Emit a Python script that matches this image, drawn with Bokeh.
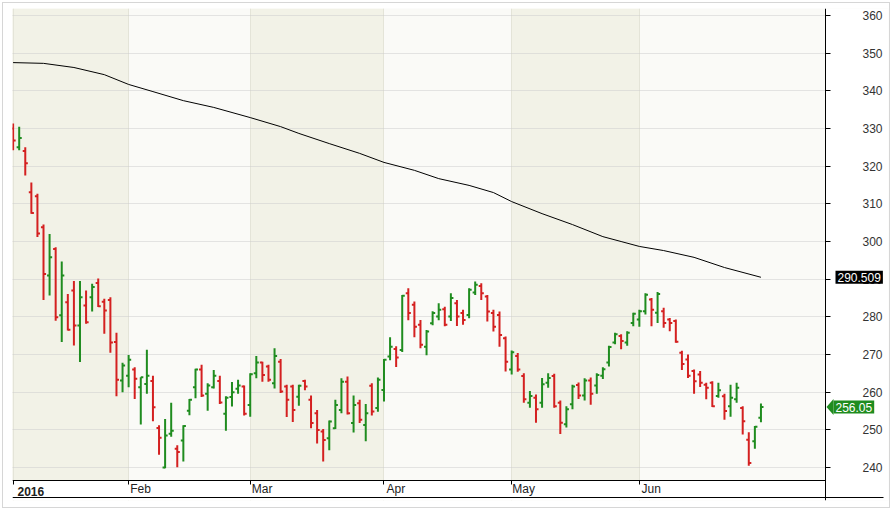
from bokeh.plotting import figure
from bokeh.models import (ColumnDataSource, Range1d, FixedTicker, LinearAxis,
                          BoxAnnotation, Label, PolyAnnotation)
from bokeh.embed import file_html
from bokeh.resources import INLINE

# ---- data (daily OHLC, Jan-Jun 2016) ----
opens = [330.0, 325.0, 324.0, 313.1, 312.0, 303.8, 291.0, 298.0, 280.4, 283.9,
         287.0, 277.7, 283.0, 285.2, 289.0, 284.0, 284.5, 273.3, 263.1,
         264.4, 266.0, 261.3, 262.2, 263.0, 250.5, 240.0, 249.0, 245.0, 247.2,
         255.1, 261.3, 266.0, 259.6, 261.3, 263.0, 254.3, 258.7, 260.9, 261.5,
         256.6, 265.0, 267.9, 266.8, 262.4, 268.1, 261.5, 261.5, 258.8, 263.0,
         258.0, 254.4, 249.6, 247.8, 250.4, 255.3, 262.8, 251.8, 257.1, 251.3,
         261.7, 255.8,
         260.6, 269.5, 271.5, 271.2, 286.3, 283.2, 277.9, 272.1, 278.3, 280.1,
         282.0, 280.1, 283.6, 281.0, 280.5, 286.5, 288.2, 285.4, 281.0, 280.5,
         274.3,
         266.0, 269.6, 264.3, 257.2, 258.5, 257.2, 262.5, 264.3, 257.2, 251.5,
         256.8, 261.9, 259.1, 263.1, 261.8, 264.4, 267.9, 273.2, 274.9, 273.2,
         278.4,
         279.3, 281.5, 284.6, 281.1, 281.5, 279.3, 278.9, 270.5, 268.7, 265.6,
         264.7, 262.0, 262.5, 259.0, 258.9, 256.3, 258.1, 255.8, 247.4, 247.0,
         253.2]
highs = [331.3, 330.5, 325.0, 315.7, 312.7, 304.5, 302.0, 298.5, 294.7, 286.1,
         289.5, 289.5, 287.0, 288.8, 290.2, 284.8, 285.2, 275.8, 267.8,
         269.9, 266.6, 264.0, 271.3, 264.4, 251.2, 252.9, 257.2, 245.9, 251.2,
         258.2, 266.2, 267.3, 262.4, 265.9, 264.4, 258.9, 262.7, 263.3, 261.8,
         265.0, 269.6, 268.1, 267.3, 271.7, 268.8, 262.0, 262.0, 262.0, 263.3,
         259.1, 255.3, 250.2, 252.5, 258.0, 263.7, 264.2, 259.1, 258.0, 256.9,
         262.4, 263.9,
         268.8, 274.6, 272.2, 285.8, 287.6, 284.1, 279.2, 276.5, 281.5, 283.6,
         282.7, 286.3, 284.5, 281.9, 287.6, 289.4, 288.9, 285.8, 281.9, 281.4,
         274.8,
         271.1, 270.4, 265.0, 260.3, 259.4, 263.8, 265.0, 264.9, 257.8, 256.3,
         262.0, 262.6, 263.7, 263.9, 265.0, 266.6, 272.3, 275.8, 275.4, 276.2,
         281.1,
         281.9, 286.3, 285.0, 286.6, 282.4, 279.7, 279.3, 271.0, 270.0, 266.0,
         265.6, 262.5, 262.9, 262.5, 259.6, 262.0, 262.5, 256.3, 249.4, 251.0,
         257.0]
lows = [324.2, 324.2, 317.5, 307.4, 301.2, 284.5, 285.7, 279.0, 273.3, 276.4,
        272.4, 268.0, 278.2, 281.4, 282.6, 275.5, 270.5, 258.9, 260.0,
        261.3, 258.2, 251.4, 259.6, 252.3, 243.4, 239.8, 248.2, 240.1, 241.6,
        253.9, 258.4, 258.7, 255.1, 261.0, 256.9, 249.8, 256.2, 259.6, 253.8,
        253.5, 263.7, 262.8, 262.8, 261.0, 259.8, 253.4, 252.1, 256.4, 260.5,
        250.4, 246.4, 241.6, 244.6, 250.2, 254.4, 254.1, 249.3, 251.8, 247.0,
        253.8, 254.8,
        257.5, 268.5, 266.7, 270.7, 279.1, 274.6, 271.7, 269.8, 277.8, 279.1,
        277.5, 278.9, 277.6, 277.9, 279.6, 285.8, 284.5, 278.8, 276.1, 272.1,
        265.5,
        264.7, 265.4, 257.2, 255.9, 251.9, 255.9, 261.2, 255.9, 248.9, 250.6,
        255.5, 258.2, 257.8, 256.7, 259.6, 263.5, 266.8, 272.7, 271.4, 272.3,
        277.5,
        277.4, 280.6, 277.5, 278.4, 277.1, 276.2, 273.1, 265.9, 263.8, 259.6,
        261.4, 258.1, 256.1, 258.5, 252.7, 253.5, 257.2, 248.8, 240.5, 245.0,
        252.0]
closes = [326.8, 327.5, 320.8, 307.6, 302.1, 291.4, 295.8, 279.9, 291.0, 276.6,
          277.7, 285.2, 278.6, 287.9, 282.8, 281.7, 273.2, 263.3, 267.1,
          268.6, 263.6, 264.0, 264.4, 256.0, 247.9, 248.5, 249.8, 244.1, 251.0,
          258.0, 266.0, 259.1, 261.8, 264.4, 257.3, 258.5, 260.0, 261.8, 254.3,
          264.8, 267.9, 264.6, 263.3, 269.6, 260.2, 258.0, 255.3, 261.7, 261.5,
          251.8, 250.0, 247.3, 252.2, 256.6, 262.8, 254.4, 256.6, 252.7, 254.4,
          254.9, 263.3,
          268.6, 272.1, 269.2, 285.6, 281.0, 277.4, 272.6, 276.1, 281.0, 281.9,
          277.9, 285.0, 280.1, 279.2, 287.2, 288.5, 286.3, 281.4, 277.4, 275.2,
          268.1,
          270.6, 266.0, 258.1, 259.0, 255.5, 262.1, 263.8, 256.3, 251.9, 255.5,
          261.5, 259.1, 263.1, 259.6, 264.6, 266.1, 272.0, 275.4, 273.6, 275.8,
          280.8,
          281.5, 285.9, 281.9, 286.1, 278.4, 278.4, 273.4, 267.5, 264.4, 262.9,
          262.5, 261.2, 256.3, 260.5, 255.0, 258.5, 261.2, 252.3, 241.2, 250.8,
          256.05]

# moving average line, read at sample bars
ma_idx = [0, 5, 10, 15, 19, 23, 28, 33, 39, 44, 47, 52, 57, 61, 66, 70, 75,
          79, 82, 87, 92, 97, 100, 103, 107, 112, 117, 123]
ma_val = [347.5, 347.3, 346.2, 344.3, 341.7, 339.8, 337.4, 335.6, 332.9,
          330.5, 328.7, 326.0, 323.4, 321.0, 318.9, 316.7, 314.9, 313.0,
          310.6, 307.4, 304.5, 301.3, 300.0, 298.7, 297.6, 295.8, 293.1,
          290.509]

month_names = ["2016", "Feb", "Mar", "Apr", "May", "Jun"]
month_start = [0, 19, 39, 61, 82, 103]
y_ticks = [240, 250, 260, 270, 280, 290, 300, 310, 320, 330, 340, 350, 360]
ma_last_text = "290.509"
close_last_text = "256.05"

# ---- styling / geometry ----
RED = "#d42020"
GREEN = "#1f8c1f"
FONT = "Liberation Sans"
FW_CHART = 813          # bar area width (px)
FW = 876                # frame width incl. price strip (px)
FH_CHART = 472          # bar area height (px)
FH = 492                # frame height incl. date strip (px)
PX_BAR = 6.08
PX_Y = 3.767
LABEL_SHIFT = -15       # date labels sit below the date axis line
x_start = -0.1
x_axis = x_start + FW_CHART / PX_BAR      # where the price axis sits
x_end = x_start + FW / PX_BAR
y_end = 361.86
y_axis = y_end - FH_CHART / PX_Y          # where the date axis sits
y_start = y_end - FH / PX_Y
y_strip_bottom = y_axis - 17 / PX_Y       # bottom line of the date strip

n = len(opens)
idx = list(range(n))
colors = [GREEN if c >= o else RED for o, c in zip(opens, closes)]
src = ColumnDataSource(dict(
    x=idx, xl=[i - 0.42 for i in idx], xr=[i + 0.42 for i in idx],
    o=opens, h=highs, l=lows, c=closes, color=colors))

p = figure(frame_width=FW, frame_height=FH,
           x_range=Range1d(x_start, x_end), y_range=Range1d(y_start, y_end),
           output_backend="svg", toolbar_location=None,
           y_axis_location="left", x_axis_location="above",
           min_border_left=12, min_border_right=4, min_border_top=8,
           min_border_bottom=10,
           background_fill_color="#fafaf7", border_fill_color=None,
           outline_line_color=None,
           styles={"outline": "1px solid #d6d6d6", "outline-offset": "-3px"})

# alternating month bands (Jan, Mar, May shaded)
bounds = month_start + [n + 20]
for k in range(0, len(month_start), 2):
    left = bounds[k] if k > 0 else x_start - 1
    p.add_layout(BoxAnnotation(left=left, right=bounds[k + 1], bottom=y_axis,
                               fill_color="#f2f2e7", fill_alpha=1.0,
                               line_color=None, level="image"))

# grids
p.ygrid.ticker = FixedTicker(ticks=y_ticks)
p.ygrid.grid_line_color = "#cccccc"
p.ygrid.grid_line_dash = "1 1"
p.xgrid.ticker = FixedTicker(ticks=month_start)
p.xgrid.grid_line_color = "#e4e4d8"

# white price strip (right) and date strip (bottom), covering the grid
p.add_layout(BoxAnnotation(left=x_axis, fill_color="white", fill_alpha=1.0,
                           line_color=None, level="underlay"))
p.add_layout(BoxAnnotation(top=y_axis, fill_color="white", fill_alpha=1.0,
                           line_color=None, level="underlay"))

# OHLC bars
p.segment(x0="x", y0="l", x1="x", y1="h", line_color="color", line_width=2, source=src)
p.segment(x0="xl", y0="o", x1="x", y1="o", line_color="color", line_width=2, source=src)
p.segment(x0="x", y0="c", x1="xr", y1="c", line_color="color", line_width=2, source=src)

# moving average
p.line(ma_idx, ma_val, line_color="black", line_width=1)

# price axis, fixed at the right end of the bar area, labels right-aligned
ya = p.yaxis[0]
ya.fixed_location = x_axis
ya.bounds = (y_start, y_end)
ya.ticker = FixedTicker(ticks=y_ticks)
ya.major_tick_out = 0
ya.major_tick_in = 5
ya.minor_tick_out = 0
ya.minor_tick_in = 0
ya.major_label_standoff = -57
ya.axis_line_color = "black"
ya.major_tick_line_color = "black"
ya.major_label_text_font = FONT
ya.major_label_text_font_size = "12px"
ya.major_label_text_color = "#333333"

# date axis, fixed at the bottom of the bar area, names right of month marks
pads = [4.5, 2, 2, 2, 2, 2]
lab_pos = [s + (pd + 3.3 * len(nm)) / PX_BAR
           for s, nm, pd in zip(month_start, month_names, pads)]

def date_axis(ticks, names, bold=False, line=True, minor=None):
    ax = LinearAxis(ticker=FixedTicker(ticks=ticks, minor_ticks=minor or []),
                    major_label_overrides=dict(zip(ticks, names)),
                    fixed_location=y_axis, bounds=(x_start, x_axis),
                    axis_line_color="black" if line else None,
                    major_tick_out=0, major_tick_in=0, major_tick_line_color=None,
                    minor_tick_out=0, minor_tick_in=4, minor_tick_line_color="black",
                    major_label_standoff=LABEL_SHIFT,
                    major_label_text_font=FONT, major_label_text_font_size="12px",
                    major_label_text_font_style="bold" if bold else "normal",
                    major_label_text_color="#222222")
    return ax

xa = p.xaxis[0]
xa.ticker = FixedTicker(ticks=lab_pos[1:], minor_ticks=month_start)
xa.major_label_overrides = dict(zip(lab_pos[1:], month_names[1:]))
xa.fixed_location = y_axis
xa.bounds = (x_start, x_axis)
xa.axis_line_color = "black"
xa.major_tick_out = 0
xa.major_tick_in = 0
xa.major_tick_line_color = None
xa.minor_tick_out = 0
xa.minor_tick_in = 4
xa.minor_tick_line_color = "black"
xa.major_label_standoff = LABEL_SHIFT
xa.major_label_text_font = FONT
xa.major_label_text_font_size = "12px"
xa.major_label_text_color = "#222222"

# bold year label
p.add_layout(date_axis([lab_pos[0]], [month_names[0]], bold=True, line=False), "above")

# bottom closing line of the date strip
xb = LinearAxis(ticker=FixedTicker(ticks=[]), axis_line_color="black",
                fixed_location=y_strip_bottom,
                bounds=(x_start, x_start + 871 / PX_BAR),
                major_tick_out=0, major_tick_in=0, minor_tick_out=0,
                minor_tick_in=0, major_label_text_font_size="0px")
p.add_layout(xb, "above")

# last-value markers on the price axis
p.add_layout(Label(x=x_axis + 10 / PX_BAR, y=ma_val[-1], text=ma_last_text,
                   text_align="left", text_baseline="middle", text_font=FONT,
                   text_font_size="12px", text_color="white",
                   background_fill_color="black", padding=2))
p.add_layout(PolyAnnotation(
    xs=[x_axis + 1 / PX_BAR, x_axis + 8 / PX_BAR, x_axis + 8 / PX_BAR],
    ys=[closes[-1], closes[-1] + 8 / PX_Y, closes[-1] - 8 / PX_Y],
    fill_color=GREEN, fill_alpha=1.0, line_color=None))
p.add_layout(Label(x=x_axis + 8 / PX_BAR, y=closes[-1], text=close_last_text,
                   text_align="left", text_baseline="middle", text_font=FONT,
                   text_font_size="12px", text_color="white",
                   background_fill_color=GREEN, padding=2))

open("out.html", "w").write(file_html(p, INLINE))
